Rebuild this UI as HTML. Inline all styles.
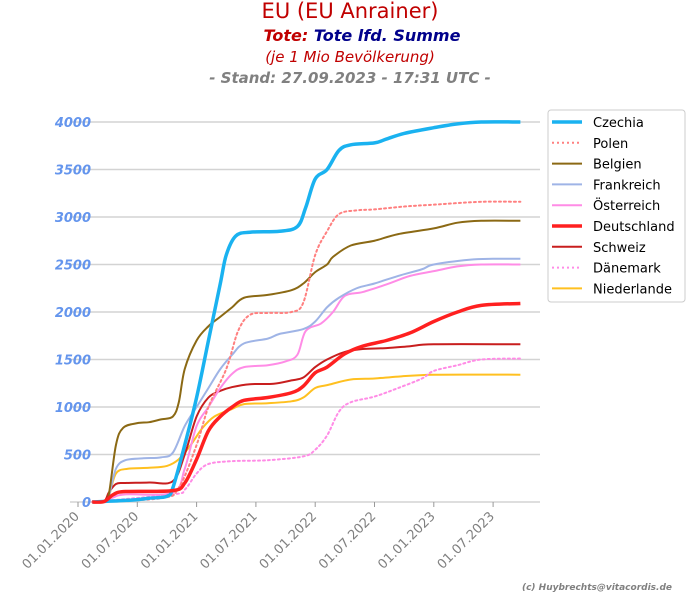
<!DOCTYPE html><html><head><meta charset="utf-8"><style>body{margin:0;background:#fff}svg{display:block}</style></head><body>
<svg id="s" width="700" height="600" xmlns="http://www.w3.org/2000/svg" font-family="DejaVu Sans, Liberation Sans, sans-serif">
<text x="350" y="18" text-anchor="middle" font-size="21" fill="#c00000">EU (EU Anrainer)</text>
<text x="362" y="41" text-anchor="middle" font-size="16" font-weight="bold" font-style="italic"><tspan fill="#c00000">Tote: </tspan><tspan fill="#00008b">Tote lfd. Summe</tspan></text>
<text x="350" y="62" text-anchor="middle" font-size="15" font-style="italic" fill="#c00000">(je 1 Mio Bevölkerung)</text>
<text x="350" y="83" text-anchor="middle" font-size="15" font-weight="bold" font-style="italic" fill="#808080">- Stand: 27.09.2023 - 17:31 UTC -</text>
<g id="grid"></g><g id="lines"></g>
<text x="672" y="590" text-anchor="end" font-size="9" font-style="italic" font-weight="bold" fill="#808080">(c) Huybrechts@vitacordis.de</text>
<rect x="548" y="110" width="137" height="192" rx="3" fill="#fff" stroke="#ccc"/>
</svg>
<script>
const NS="http://www.w3.org/2000/svg",s=document.getElementById('s');
const X=t=>78+t*118.6,Y=v=>502-v*0.095;
function el(n,a,p){const e=document.createElementNS(NS,n);for(const k in a)e.setAttribute(k,a[k]);(p||s).appendChild(e);return e}
const g=document.getElementById('grid'),L=document.getElementById('lines');
for(let v=0;v<=4000;v+=500){el('line',{x1:70,x2:540,y1:Y(v),y2:Y(v),stroke:'#d3d3d3','stroke-width':1.5},g);
const t=el('text',{x:91,y:Y(v)+5,'text-anchor':'end','font-size':13,'font-weight':'bold','font-style':'italic',fill:'#6495ed'},g);t.textContent=v;}
const dl=['01.01.2020','01.07.2020','01.01.2021','01.07.2021','01.01.2022','01.07.2022','01.01.2023','01.07.2023'];
dl.forEach((d,i)=>{const x=X(i*0.5);el('line',{x1:x,x2:x,y1:502,y2:507,stroke:'#999'},g);
const t=el('text',{x:x+2,y:517,'text-anchor':'end','font-size':13,fill:'#808080',transform:`rotate(-45 ${x+2} 517)`},g);t.textContent=d;});
const D=[
['Czechia','#1ab2f0',3.5,0,[[0.12,0],[0.45,20],[0.6,40],[0.75,60],[0.8,150],[0.9,600],[1.0,1100],[1.1,1700],[1.2,2300],[1.25,2600],[1.33,2800],[1.45,2840],[1.7,2850],[1.85,2900],[1.92,3100],[2.0,3400],[2.1,3500],[2.2,3700],[2.3,3760],[2.5,3780],[2.6,3820],[2.75,3880],[3.0,3940],[3.2,3980],[3.4,4000],[3.73,4000]]],
['Polen','#ff8080',2,1,[[0.12,0],[0.7,40],[0.85,150],[1.0,600],[1.1,1000],[1.25,1400],[1.35,1800],[1.45,1970],[1.6,1990],[1.8,2000],[1.9,2100],[2.0,2600],[2.1,2850],[2.2,3030],[2.35,3070],[2.5,3080],[2.75,3110],[3.0,3130],[3.4,3160],[3.73,3160]]],
['Belgien','#8b6914',2,0,[[0.12,0],[0.22,10],[0.26,80],[0.32,600],[0.38,780],[0.5,830],[0.6,840],[0.7,870],[0.8,900],[0.85,1050],[0.9,1400],[1.0,1700],[1.1,1850],[1.2,1950],[1.3,2050],[1.4,2150],[1.6,2180],[1.8,2230],[1.9,2300],[2.0,2420],[2.1,2500],[2.15,2580],[2.3,2700],[2.5,2750],[2.7,2820],[3.0,2880],[3.2,2940],[3.4,2960],[3.73,2960]]],
['Frankreich','#9fb4e6',2,0,[[0.12,0],[0.22,8],[0.26,60],[0.32,350],[0.4,440],[0.55,460],[0.7,470],[0.8,520],[0.9,800],[1.0,1000],[1.1,1200],[1.2,1400],[1.3,1550],[1.4,1670],[1.6,1720],[1.7,1770],[1.9,1820],[2.0,1900],[2.1,2050],[2.2,2150],[2.35,2250],[2.5,2300],[2.7,2380],[2.9,2450],[3.0,2500],[3.3,2550],[3.5,2560],[3.73,2560]]],
['Österreich','#ff8ce6',2,0,[[0.12,0],[0.22,5],[0.3,50],[0.4,80],[0.8,100],[0.9,350],[1.0,800],[1.1,1000],[1.2,1200],[1.3,1350],[1.4,1420],[1.6,1440],[1.75,1480],[1.85,1550],[1.92,1800],[2.05,1880],[2.15,2000],[2.25,2170],[2.4,2210],[2.6,2290],[2.8,2380],[3.0,2430],[3.2,2480],[3.4,2500],[3.73,2500]]],
['Deutschland','#ff2020',3.5,0,[[0.12,0],[0.22,5],[0.3,80],[0.4,110],[0.8,120],[0.9,200],[1.0,450],[1.1,750],[1.2,900],[1.3,1000],[1.4,1070],[1.6,1100],[1.8,1150],[1.9,1220],[2.0,1360],[2.1,1420],[2.25,1560],[2.4,1640],[2.6,1700],[2.8,1780],[3.0,1900],[3.2,2000],[3.4,2070],[3.73,2090]]],
['Schweiz','#c81e1e',2,0,[[0.12,0],[0.22,8],[0.26,100],[0.32,190],[0.4,200],[0.6,205],[0.8,220],[0.9,500],[1.0,900],[1.1,1100],[1.2,1170],[1.3,1210],[1.45,1240],[1.65,1245],[1.8,1280],[1.9,1310],[2.0,1420],[2.1,1500],[2.25,1580],[2.4,1610],[2.6,1620],[2.8,1640],[3.0,1660],[3.73,1660]]],
['Dänemark','#ff8ce6',2,1,[[0.12,0],[0.8,80],[0.9,130],[1.0,300],[1.1,400],[1.3,430],[1.6,440],[1.9,480],[2.0,550],[2.1,700],[2.2,950],[2.3,1050],[2.5,1110],[2.7,1200],[2.9,1300],[3.0,1380],[3.2,1440],[3.4,1500],[3.73,1510]]],
['Niederlande','#ffc020',2,0,[[0.12,0],[0.22,8],[0.26,60],[0.32,300],[0.42,350],[0.6,360],[0.75,380],[0.85,450],[0.95,600],[1.05,780],[1.15,900],[1.3,980],[1.4,1030],[1.6,1040],[1.8,1060],[1.9,1100],[2.0,1200],[2.1,1230],[2.3,1290],[2.5,1300],[2.7,1320],[3.0,1340],[3.73,1340]]]];
function path(p){const q=p.map(([t,v])=>[X(t),Y(v)]);let d='M'+q[0];for(let i=0;i<q.length-1;i++){const a=q[i-1]||q[i],b=q[i],c=q[i+1],e=q[i+2]||c;
d+=` C${b[0]+(c[0]-a[0])/6},${b[1]+(c[1]-a[1])/6} ${c[0]-(e[0]-b[0])/6},${c[1]-(e[1]-b[1])/6} ${c[0]},${c[1]}`;}return d}
const order=[8,7,6,4,3,2,1,0,5];
order.forEach(i=>{const[n,c,w,dt,p]=D[i];el('path',{d:path(p),fill:'none',stroke:c,'stroke-width':w,'stroke-dasharray':dt?'2,3':'none','stroke-linecap':dt?'round':'butt'},L);});
D.forEach(([n,c,w,dt],i)=>{const y=122+i*20.8;el('line',{x1:552,x2:582,y1:y,y2:y,stroke:c,'stroke-width':w,'stroke-dasharray':dt?'2,3':'none'});
const t=el('text',{x:593,y:y+5,'font-size':13,fill:'#000'});t.textContent=n;});
</script>
</body></html>
